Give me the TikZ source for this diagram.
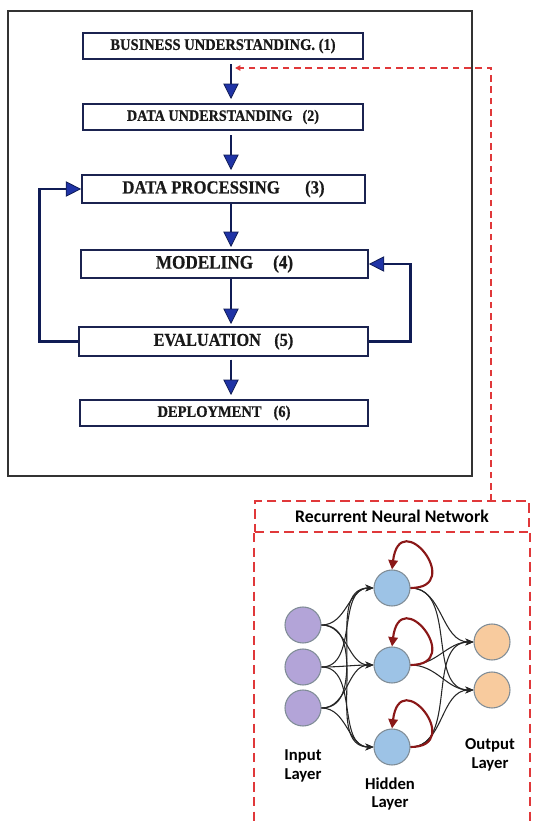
\documentclass[tikz,border=0pt]{standalone}
\usepackage{fontspec}
\usetikzlibrary{arrows.meta}
\newfontfamily\stagefont[FakeStretch=0.9,BoldFeatures={FakeBold=0.6}]{Liberation Serif}
\newfontfamily\netfont{Carlito}
\definecolor{boxline}{HTML}{1B2350}
\definecolor{flowline}{HTML}{101C55}
\definecolor{flowhead}{HTML}{1F33A6}
\definecolor{dashred}{HTML}{E0383A}
\definecolor{looprd}{HTML}{8A1818}
\definecolor{inpurple}{HTML}{B3A4D8}
\definecolor{hidblue}{HTML}{9DC3E6}
\definecolor{outorange}{HTML}{F8CB9E}
\definecolor{ringgray}{HTML}{7F8C96}
\begin{document}
\begin{tikzpicture}[x=0.75pt,y=0.75pt,
        stage/.style={draw=boxline,line width=1.5pt,fill=white,inner sep=0pt,
            text=black!90,font=\stagefont\bfseries\fontsize{#1}{#1}\selectfont},
        flow/.style={draw=flowline,line width=2.2pt,
            -{Triangle[width=11.5pt,length=11.5pt,line width=0.6pt,fill=flowhead]}},
        feedback/.style={draw=dashred,line width=1.2pt,dash pattern=on 5pt off 3.5pt,
            -{Triangle[width=4pt,length=4pt]}},
        neuron/.style={circle,draw=ringgray,line width=0.8pt,minimum size=27pt,inner sep=0pt},
        link/.style={draw=black!85,line width=0.8pt,-{Stealth[length=6pt,width=5pt]}},
        selfloop/.style={draw=looprd,line width=1.6pt,-{Triangle[width=7pt,length=7pt]}},
        lbl/.style={font=\netfont\bfseries\fontsize{12.5}{14}\selectfont,align=center}]
    \useasboundingbox (0,0) rectangle (533,-821);
    %% Frame
    \draw[line width=1.2pt,black!80] (8,-11) rectangle (472,-476);
    %% Stages
    \node[stage=12.1,minimum width=210pt,minimum height=19.5pt] (b1) at (223,-46)
        {BUSINESS UNDERSTANDING. (1)};
    \node[stage=11.8,minimum width=210pt,minimum height=19.5pt] (b2) at (223,-117)
        {DATA UNDERSTANDING\hspace{7.5pt}(2)};
    \node[stage=13.9,minimum width=212pt,minimum height=21pt] (b3) at (223.5,-189)
        {DATA PROCESSING\hspace{19pt}(3)};
    \node[stage=14.3,minimum width=215pt,minimum height=21pt] (b4) at (224.5,-264)
        {MODELING\hspace{15pt}(4)};
    \node[stage=13.6,minimum width=217pt,minimum height=21.75pt] (b5) at (223.5,-341.5)
        {EVALUATION\hspace{10pt}(5)};
    \node[stage=12.1,minimum width=216pt,minimum height=19.5pt] (b6) at (224,-413)
        {DEPLOYMENT\hspace{9pt}(6)};
    %% Flow
    \coordinate (fx) at (231,0);
    \draw[flow,shorten <=3pt,shorten >=3pt] (b1.south -| fx) -- (b2.north -| fx);
    \draw[flow,shorten <=3pt,shorten >=3pt] (b2.south -| fx) -- (b3.north -| fx);
    \draw[flow,shorten >=1.5pt] (b3.south -| fx) -- (b4.north -| fx);
    \draw[flow,shorten >=1.5pt] (b4.south -| fx) -- (b5.north -| fx);
    \draw[flow,shorten <=2pt,shorten >=3pt] (b5.south -| fx) -- (b6.north -| fx);
    %% Loops back
    \draw[flow] (b5.west) -- ++(-38,0) |- (b3.west);
    \draw[flow] (b5.east) -- ++(41,0) |- (b4.east);
    %% RNN panel
    \node[draw=dashred,line width=1.5pt,dash pattern=on 7pt off 4pt,minimum width=205.5pt,
        minimum height=23pt,font=\netfont\bfseries\fontsize{13.3}{15}\selectfont] (rnn) at (392,-516.5)
        {Recurrent Neural Network};
    \draw[dashred,line width=1.5pt,dash pattern=on 7pt off 4pt]
        (rnn.south west) -- ++(0,-300) (rnn.south east) -- ++(0,-300);
    \coordinate (fb) at (491,-501);
    \coordinate (hit) at (235,-68);
    \draw[feedback] (fb) |- (hit);
    %% Neurons
    \node[neuron,fill=inpurple] (i1) at (303,-625) {};
    \node[neuron,fill=inpurple] (i2) at (303,-667) {};
    \node[neuron,fill=inpurple] (i3) at (303,-708) {};
    \node[neuron,fill=hidblue] (h1) at (392,-588) {};
    \node[neuron,fill=hidblue] (h2) at (392,-665) {};
    \node[neuron,fill=hidblue] (h3) at (392,-747) {};
    \node[neuron,fill=outorange] (o1) at (492,-642) {};
    \node[neuron,fill=outorange] (o2) at (492,-690) {};
    %% Weights
    \foreach \a in {1,2,3}
        \foreach \b in {1,2,3}
            \draw[link] (i\a.east) to[out=0,in=180] (h\b.west);
    \foreach \a in {1,2,3}
        \foreach \b in {1,2}
            \draw[link] (h\a.east) to[out=0,in=180] (o\b.west);
    \foreach \a in {1,2,3}
        \draw[selfloop] (h\a.east) .. controls +(55,0) and +(8,65) .. (h\a.north);
    %% Layer names
    \node[lbl] (li) at (303,-766) {Input\\Layer};
    \node[lbl] (lh) at (390,-794) {Hidden\\Layer};
    \node[lbl] (lo) at (490,-755) {Output\\Layer};
\end{tikzpicture}
\end{document}
